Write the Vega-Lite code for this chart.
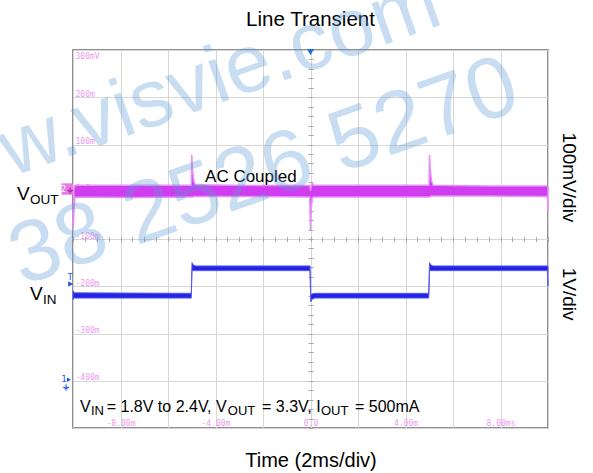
{
  "$schema": "https://vega.github.io/schema/vega-lite/v6.json",
  "width": 475,
  "height": 378,
  "autosize": {"type": "none"},
  "padding": {"left": 73, "top": 50, "right": 45, "bottom": 45},
  "background": "white",
  "config": {
    "view": {"stroke": "#6b6b6b", "strokeWidth": 1.5},
    "font": "Liberation Sans"
  },
  "datasets": {
    "vout": [
      {"t": -10.0, "lo": -80, "hi": -62},
      {"t": -9.96, "lo": -45, "hi": 5},
      {"t": -9.92, "lo": -11, "hi": 14},
      {"t": -7.5, "lo": -12, "hi": 14},
      {"t": -5.02, "lo": -11, "hi": 14},
      {"t": -5.0, "lo": -11, "hi": 78},
      {"t": -4.97, "lo": -11, "hi": 50},
      {"t": -4.92, "lo": -10, "hi": 24},
      {"t": -4.85, "lo": -10, "hi": 15},
      {"t": -2.5, "lo": -10, "hi": 13},
      {"t": -0.03, "lo": -11, "hi": 13},
      {"t": 0.0, "lo": -82, "hi": 2},
      {"t": 0.03, "lo": -40, "hi": 10},
      {"t": 0.07, "lo": -13, "hi": 18},
      {"t": 0.14, "lo": -11, "hi": 14},
      {"t": 2.5, "lo": -11, "hi": 14},
      {"t": 4.99, "lo": -11, "hi": 14},
      {"t": 5.01, "lo": -11, "hi": 78},
      {"t": 5.04, "lo": -10, "hi": 50},
      {"t": 5.09, "lo": -9, "hi": 24},
      {"t": 5.16, "lo": -9, "hi": 14},
      {"t": 7.5, "lo": -9, "hi": 12},
      {"t": 9.97, "lo": -10, "hi": 12},
      {"t": 10.0, "lo": -43, "hi": 10}
    ],
    "vin": [
      {"t": -10.0, "lo": -228, "hi": -210},
      {"t": -9.94, "lo": -225, "hi": -214},
      {"t": -5.02, "lo": -225, "hi": -215},
      {"t": -4.99, "lo": -167, "hi": -150},
      {"t": -4.93, "lo": -167, "hi": -155},
      {"t": -4.85, "lo": -167, "hi": -157},
      {"t": -0.02, "lo": -167, "hi": -157},
      {"t": 0.01, "lo": -233, "hi": -218},
      {"t": 0.08, "lo": -227, "hi": -216},
      {"t": 0.2, "lo": -225, "hi": -215},
      {"t": 4.98, "lo": -225, "hi": -215},
      {"t": 5.01, "lo": -167, "hi": -150},
      {"t": 5.07, "lo": -167, "hi": -155},
      {"t": 5.15, "lo": -167, "hi": -157},
      {"t": 9.97, "lo": -167, "hi": -157},
      {"t": 10.0, "lo": -200, "hi": -157}
    ],
    "title": [{"label": "Line Transient", "t": 0, "v": 350.8}],
    "scaleLabels": [
      {"label": "100mV/div", "t": 10.905, "v": 30.2},
      {"label": "1V/div", "t": 10.905, "v": -216.8}
    ],
    "note": [{"label": "AC Coupled", "t": -4.44, "v": 21.3}],
    "chanMain": [
      {"label": "V", "t": -12.358, "v": -17.5},
      {"label": "V", "t": -11.81, "v": -229}
    ],
    "chanSub": [
      {"label": "OUT", "t": -11.81, "v": -25.9},
      {"label": "IN", "t": -11.263, "v": -237.6}
    ],
    "condMain": [
      {"label": "V", "t": -9.705, "v": -465.5},
      {"label": "= 1.8V to 2.4V, V", "t": -8.581, "v": -465.5},
      {"label": "= 3.3V, I", "t": -2.042, "v": -465.5},
      {"label": "= 500mA", "t": 1.874, "v": -465.5}
    ],
    "condSub": [
      {"label": "IN", "t": -9.242, "v": -472.5},
      {"label": "OUT", "t": -3.48, "v": -472.5},
      {"label": "OUT", "t": 0.442, "v": -472.5}
    ],
    "wm1": [{"label": "w.visvie.com", "t": -12.6, "v": 31.2}],
    "wm2": [{"label": "38 2526 5270", "t": -12.147, "v": -199.5}],
    "trigTop": [{"t": 0, "v": 295.5}],
    "trigLevel": [{"t": -10.1, "v": -195}],
    "trigT": [{"label": "T", "t": -10.12, "v": -180}],
    "ch2Box": [{"t": -10.24, "v": 5.8}],
    "ch2Num": [{"label": "2", "t": -10.4, "v": 6}],
    "ch2Gnd": [{"t": -10.12, "v": 3}],
    "ch1Num": [{"label": "1", "t": -10.38, "v": -396}],
    "ch1Arrow": [{"t": -10.17, "v": -398}],
    "ch1Gnd": [{"t": -10.29, "v": -414}]
  },
  "resolve": {"axis": {"x": "independent", "y": "independent"}},
  "layer": [
    {
      "data": {"name": "vout"},
      "mark": {"type": "area", "color": "#d03cf0", "stroke": "#e690f5", "strokeWidth": 1.5, "interpolate": "linear"},
      "encoding": {
        "x": {
          "field": "t", "type": "quantitative",
          "scale": {"domain": [-10, 10], "nice": false, "zero": false},
          "axis": {
            "orient": "bottom",
            "values": [-10, -8, -6, -4, -2, 0, 2, 4, 6, 8, 10],
            "grid": true, "gridColor": "#d6d6d6", "gridWidth": 1,
            "domain": false, "ticks": false,
            "labelExpr": "datum.value == -8 ? '-8.00m' : datum.value == -4 ? '-4.00m' : datum.value == 0 ? '0.0' : datum.value == 4 ? '4.00m' : datum.value == 8 ? '8.00ms' : ''",
            "labelFont": "DejaVu Sans Mono", "labelFontSize": 8, "labelColor": "#ee99ee",
            "labelPadding": -2.5, "labelBaseline": "alphabetic", "labelFlush": false, "labelOverlap": false, "labelBound": false,
            "title": "Time (2ms/div)", "titleFont": "Liberation Sans", "titleFontSize": 20, "titleFontWeight": "normal", "titleColor": "#000000", "titlePadding": 22, "minExtent": 0
          }
        },
        "y": {
          "field": "hi", "type": "quantitative",
          "scale": {"domain": [-500, 300], "nice": false, "zero": false},
          "axis": {
            "orient": "left",
            "values": [300, 200, 100, 0, -100, -200, -300, -400, -500],
            "grid": true, "gridColor": "#d6d6d6", "gridWidth": 1,
            "domain": false, "ticks": false,
            "labelExpr": "datum.value == 300 ? '300mV' : datum.value == 0 ? '0.0' : datum.value == -500 ? '' : datum.value + 'm'",
            "labelFont": "DejaVu Sans Mono", "labelFontSize": 8, "labelColor": "#ee99ee",
            "labelAlign": "left",
            "labelBaseline": {"condition": {"test": "datum.value == 300", "value": "top"}, "value": "alphabetic"},
            "labelOffset": {"condition": {"test": "datum.value == 300", "value": 2}, "value": -1},
            "labelPadding": -2,
            "labelFlush": false, "labelOverlap": false, "labelBound": false,
            "title": null, "minExtent": 0
          }
        },
        "y2": {"field": "lo"}
      }
    },
    {
      "data": {"name": "vin"},
      "mark": {"type": "area", "color": "#2424e6", "stroke": "#5a5af2", "strokeWidth": 1, "interpolate": "linear"},
      "encoding": {
        "x": {
          "field": "t", "type": "quantitative",
          "scale": {"domain": [-10, 10], "nice": false, "zero": false},
          "axis": {
            "orient": "bottom", "offset": -191.5,
            "values": [-10, -9.5, -9, -8.5, -8, -7.5, -7, -6.5, -6, -5.5, -5, -4.5, -4, -3.5, -3, -2.5, -2, -1.5, -1, -0.5, 0, 0.5, 1, 1.5, 2, 2.5, 3, 3.5, 4, 4.5, 5, 5.5, 6, 6.5, 7, 7.5, 8, 8.5, 9, 9.5, 10],
            "grid": false, "labels": false, "domain": false, "ticks": true, "tickSize": 5, "tickColor": "#a8a8a8", "tickWidth": 1, "title": null
          }
        },
        "y": {
          "field": "hi", "type": "quantitative",
          "scale": {"domain": [-500, 300], "nice": false, "zero": false},
          "axis": {
            "orient": "left", "offset": -240,
            "values": [300, 280, 260, 240, 220, 200, 180, 160, 140, 120, 100, 80, 60, 40, 20, 0, -20, -40, -60, -80, -100, -120, -140, -160, -180, -200, -220, -240, -260, -280, -300, -320, -340, -360, -380, -400, -420, -440, -460, -480, -500],
            "grid": false, "labels": false, "domain": false, "ticks": true, "tickSize": 5, "tickColor": "#a8a8a8", "tickWidth": 1, "title": null
          }
        },
        "y2": {"field": "lo"}
      }
    },
    {
      "data": {"name": "title"},
      "mark": {"type": "text", "fontSize": 20.5, "align": "center", "baseline": "alphabetic", "color": "#000000"},
      "encoding": {
        "x": {"field": "t", "type": "quantitative", "axis": null, "scale": {"domain": [-10, 10], "nice": false, "zero": false}},
        "y": {"field": "v", "type": "quantitative", "axis": null, "scale": {"domain": [-500, 300], "nice": false, "zero": false}},
        "text": {"field": "label"}
      }
    },
    {
      "data": {"name": "scaleLabels"},
      "mark": {"type": "text", "fontSize": 19, "align": "center", "baseline": "middle", "angle": 90, "color": "#000000"},
      "encoding": {
        "x": {"field": "t", "type": "quantitative", "axis": null, "scale": {"domain": [-10, 10], "nice": false, "zero": false}},
        "y": {"field": "v", "type": "quantitative", "axis": null, "scale": {"domain": [-500, 300], "nice": false, "zero": false}},
        "text": {"field": "label"}
      }
    },
    {
      "data": {"name": "note"},
      "mark": {"type": "text", "fontSize": 17, "align": "left", "baseline": "alphabetic", "color": "#000000"},
      "encoding": {
        "x": {"field": "t", "type": "quantitative", "axis": null, "scale": {"domain": [-10, 10], "nice": false, "zero": false}},
        "y": {"field": "v", "type": "quantitative", "axis": null, "scale": {"domain": [-500, 300], "nice": false, "zero": false}},
        "text": {"field": "label"}
      }
    },
    {
      "data": {"name": "chanMain"},
      "mark": {"type": "text", "fontSize": 19, "align": "left", "baseline": "alphabetic", "color": "#000000"},
      "encoding": {
        "x": {"field": "t", "type": "quantitative", "axis": null, "scale": {"domain": [-10, 10], "nice": false, "zero": false}},
        "y": {"field": "v", "type": "quantitative", "axis": null, "scale": {"domain": [-500, 300], "nice": false, "zero": false}},
        "text": {"field": "label"}
      }
    },
    {
      "data": {"name": "chanSub"},
      "mark": {"type": "text", "fontSize": 13.5, "align": "left", "baseline": "alphabetic", "color": "#000000"},
      "encoding": {
        "x": {"field": "t", "type": "quantitative", "axis": null, "scale": {"domain": [-10, 10], "nice": false, "zero": false}},
        "y": {"field": "v", "type": "quantitative", "axis": null, "scale": {"domain": [-500, 300], "nice": false, "zero": false}},
        "text": {"field": "label"}
      }
    },
    {
      "data": {"name": "condMain"},
      "mark": {"type": "text", "fontSize": 16, "align": "left", "baseline": "alphabetic", "color": "#000000"},
      "encoding": {
        "x": {"field": "t", "type": "quantitative", "axis": null, "scale": {"domain": [-10, 10], "nice": false, "zero": false}},
        "y": {"field": "v", "type": "quantitative", "axis": null, "scale": {"domain": [-500, 300], "nice": false, "zero": false}},
        "text": {"field": "label"}
      }
    },
    {
      "data": {"name": "condSub"},
      "mark": {"type": "text", "fontSize": 13, "align": "left", "baseline": "alphabetic", "color": "#000000"},
      "encoding": {
        "x": {"field": "t", "type": "quantitative", "axis": null, "scale": {"domain": [-10, 10], "nice": false, "zero": false}},
        "y": {"field": "v", "type": "quantitative", "axis": null, "scale": {"domain": [-500, 300], "nice": false, "zero": false}},
        "text": {"field": "label"}
      }
    },
    {
      "data": {"name": "trigTop"},
      "mark": {"type": "point", "shape": "triangle-down", "filled": true, "size": 50, "color": "#1d6be0", "opacity": 1},
      "encoding": {
        "x": {"field": "t", "type": "quantitative", "axis": null, "scale": {"domain": [-10, 10], "nice": false, "zero": false}},
        "y": {"field": "v", "type": "quantitative", "axis": null, "scale": {"domain": [-500, 300], "nice": false, "zero": false}}
      }
    },
    {
      "data": {"name": "trigLevel"},
      "mark": {"type": "point", "shape": "triangle-right", "filled": true, "size": 30, "color": "#2050e8", "opacity": 1},
      "encoding": {
        "x": {"field": "t", "type": "quantitative", "axis": null, "scale": {"domain": [-10, 10], "nice": false, "zero": false}},
        "y": {"field": "v", "type": "quantitative", "axis": null, "scale": {"domain": [-500, 300], "nice": false, "zero": false}}
      }
    },
    {
      "data": {"name": "trigT"},
      "mark": {"type": "text", "fontSize": 9, "align": "center", "baseline": "middle", "color": "#3050ff", "font": "DejaVu Sans Mono"},
      "encoding": {
        "x": {"field": "t", "type": "quantitative", "axis": null, "scale": {"domain": [-10, 10], "nice": false, "zero": false}},
        "y": {"field": "v", "type": "quantitative", "axis": null, "scale": {"domain": [-500, 300], "nice": false, "zero": false}},
        "text": {"field": "label"}
      }
    },
    {
      "data": {"name": "ch2Box"},
      "mark": {"type": "point", "shape": "square", "filled": true, "size": 130, "color": "#e67ae6", "opacity": 1},
      "encoding": {
        "x": {"field": "t", "type": "quantitative", "axis": null, "scale": {"domain": [-10, 10], "nice": false, "zero": false}},
        "y": {"field": "v", "type": "quantitative", "axis": null, "scale": {"domain": [-500, 300], "nice": false, "zero": false}}
      }
    },
    {
      "data": {"name": "ch2Num"},
      "mark": {"type": "text", "fontSize": 9, "align": "center", "baseline": "middle", "color": "#ffffff", "font": "DejaVu Sans Mono"},
      "encoding": {
        "x": {"field": "t", "type": "quantitative", "axis": null, "scale": {"domain": [-10, 10], "nice": false, "zero": false}},
        "y": {"field": "v", "type": "quantitative", "axis": null, "scale": {"domain": [-500, 300], "nice": false, "zero": false}},
        "text": {"field": "label"}
      }
    },
    {
      "data": {"name": "ch2Gnd"},
      "mark": {"type": "point", "shape": "M0,-1V0M-1,0H1M-0.6,0.45H0.6M-0.25,0.9H0.25", "filled": false, "size": 36, "color": "#b020b0", "strokeWidth": 1, "opacity": 1},
      "encoding": {
        "x": {"field": "t", "type": "quantitative", "axis": null, "scale": {"domain": [-10, 10], "nice": false, "zero": false}},
        "y": {"field": "v", "type": "quantitative", "axis": null, "scale": {"domain": [-500, 300], "nice": false, "zero": false}}
      }
    },
    {
      "data": {"name": "ch1Num"},
      "mark": {"type": "text", "fontSize": 9, "align": "center", "baseline": "middle", "color": "#3050ff", "font": "DejaVu Sans Mono"},
      "encoding": {
        "x": {"field": "t", "type": "quantitative", "axis": null, "scale": {"domain": [-10, 10], "nice": false, "zero": false}},
        "y": {"field": "v", "type": "quantitative", "axis": null, "scale": {"domain": [-500, 300], "nice": false, "zero": false}},
        "text": {"field": "label"}
      }
    },
    {
      "data": {"name": "ch1Arrow"},
      "mark": {"type": "point", "shape": "triangle-right", "filled": true, "size": 20, "color": "#2050e8", "opacity": 1},
      "encoding": {
        "x": {"field": "t", "type": "quantitative", "axis": null, "scale": {"domain": [-10, 10], "nice": false, "zero": false}},
        "y": {"field": "v", "type": "quantitative", "axis": null, "scale": {"domain": [-500, 300], "nice": false, "zero": false}}
      }
    },
    {
      "data": {"name": "ch1Gnd"},
      "mark": {"type": "point", "shape": "M0,-1V0M-1,0H1M-0.6,0.45H0.6M-0.25,0.9H0.25", "filled": false, "size": 36, "color": "#2050e8", "strokeWidth": 1, "opacity": 1},
      "encoding": {
        "x": {"field": "t", "type": "quantitative", "axis": null, "scale": {"domain": [-10, 10], "nice": false, "zero": false}},
        "y": {"field": "v", "type": "quantitative", "axis": null, "scale": {"domain": [-500, 300], "nice": false, "zero": false}}
      }
    },
    {
      "data": {"name": "wm1"},
      "mark": {"type": "text", "fontSize": 82, "align": "left", "baseline": "alphabetic", "angle": -19.5, "color": "#5b9bd5", "opacity": 0.33},
      "encoding": {
        "x": {"field": "t", "type": "quantitative", "axis": null, "scale": {"domain": [-10, 10], "nice": false, "zero": false}},
        "y": {"field": "v", "type": "quantitative", "axis": null, "scale": {"domain": [-500, 300], "nice": false, "zero": false}},
        "text": {"field": "label"}
      }
    },
    {
      "data": {"name": "wm2"},
      "mark": {"type": "text", "fontSize": 87, "align": "left", "baseline": "alphabetic", "angle": -19.5, "color": "#5b9bd5", "opacity": 0.33},
      "encoding": {
        "x": {"field": "t", "type": "quantitative", "axis": null, "scale": {"domain": [-10, 10], "nice": false, "zero": false}},
        "y": {"field": "v", "type": "quantitative", "axis": null, "scale": {"domain": [-500, 300], "nice": false, "zero": false}},
        "text": {"field": "label"}
      }
    }
  ]
}
